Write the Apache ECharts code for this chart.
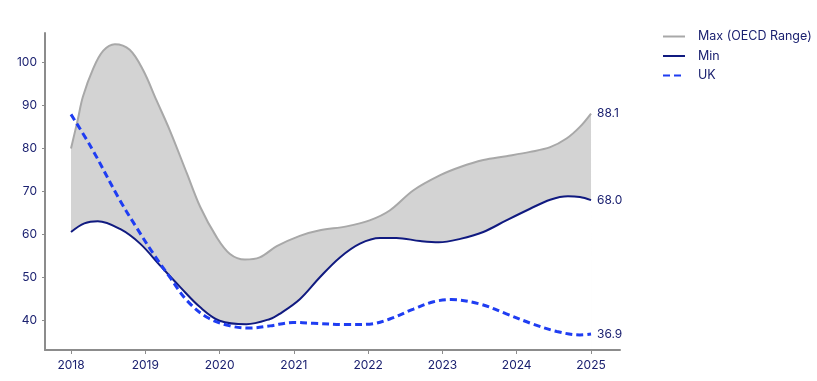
<!DOCTYPE html>
<html><head><meta charset="utf-8">
<script src="https://cdn.jsdelivr.net/npm/echarts@6/dist/echarts.min.js"></script>
<style>html,body{margin:0;padding:0;background:#fff}#c{width:817px;height:381px}</style>
</head><body><div id="c"></div>
<script>
// values (year position, value)
const maxYears = [2018.00,2018.09,2018.16,2018.30,2018.435,2018.59,2018.79,2018.97,2019.15,2019.33,2019.56,2019.74,2019.96,2020.14,2020.34,2020.54,2020.77,2021.08,2021.35,2021.71,2022.02,2022.29,2022.61,2022.97,2023.24,2023.55,2023.86,2024.18,2024.45,2024.67,2024.85,2025.00];
const maxVals  = [80.0,86.6,92.0,98.6,102.7,104.2,102.9,98.2,91.2,84.2,74.2,66.4,59.4,55.5,54.2,54.7,57.3,59.7,61.0,61.9,63.3,65.6,70.3,73.8,75.7,77.3,78.2,79.2,80.3,82.3,85.0,88.1];
const minYears = [2018.00,2018.18,2018.36,2018.66,2018.93,2019.20,2019.47,2019.74,2020.00,2020.36,2020.68,2020.81,2021.08,2021.35,2021.62,2021.89,2022.16,2022.38,2022.70,2022.95,2023.24,2023.55,2023.86,2024.18,2024.45,2024.69,2024.85,2025.00];
const minVals  = [60.6,62.6,63.1,61.3,57.9,52.8,47.8,43.1,40.0,39.2,40.4,41.6,45.0,50.1,54.7,57.9,59.2,59.2,58.5,58.2,59.0,60.6,63.3,66.0,68.1,68.9,68.7,68.0];
const ukYears  = [2018.00,2018.28,2018.66,2018.88,2019.11,2019.33,2019.56,2019.83,2020.14,2020.41,2020.68,2020.99,2021.26,2021.71,2022.02,2022.29,2022.61,2022.88,2023.12,2023.50,2023.86,2024.22,2024.54,2024.85,2025.00];
const ukVals   = [87.9,80.0,67.9,61.7,55.5,50.1,44.7,40.8,38.8,38.3,38.8,39.6,39.4,39.1,39.2,40.4,42.7,44.4,44.9,43.9,41.6,39.2,37.5,36.7,36.9];
const yearTicks = [2018,2019,2020,2021,2022,2023,2024,2025];
const yTicks = [40,50,60,70,80,90,100];

const pair = (xs, vs) => xs.map((x,i)=>[x, vs[i]]);
const navy = '#1b2170';
const font = 'Inter, "Noto Sans", sans-serif';
const endLbl = {show:true, color:navy, fontSize:12, fontFamily:font, distance:6,
  formatter: p => Number(p.value[1]).toFixed(1)};
const SM = 0.35;

const chart = echarts.init(document.getElementById('c'), null, {renderer:'canvas'});
chart.setOption({
  animation:false,
  grid:{left:45, right:197, top:33, bottom:31, containLabel:false},
  legend:{
    orient:'vertical', left:657, top:25, itemWidth:22, itemHeight:12, itemGap:6.5,
    itemStyle:{opacity:0},
    textStyle:{color:navy, fontSize:12.5, fontFamily:font, padding:[0,0,0,8]},
    data:['Max (OECD Range)','Min','UK']
  },
  xAxis:{
    type:'value', min:2017.65, max:2025.39,
    axisLine:{show:true, lineStyle:{color:'#8c8c8c', width:2}},
    axisTick:{show:true, customValues:yearTicks, length:4, lineStyle:{color:'#8c8c8c'}},
    axisLabel:{customValues:yearTicks, color:navy, fontSize:12, fontFamily:font, margin:9,
      formatter: v => String(Math.round(v))},
    splitLine:{show:false}
  },
  yAxis:{
    type:'value', min:33.2, max:106.8,
    axisLine:{show:true, lineStyle:{color:'#8c8c8c', width:2}},
    axisTick:{show:true, customValues:yTicks, length:3, lineStyle:{color:'#8c8c8c'}},
    axisLabel:{customValues:yTicks, color:navy, fontSize:12, fontFamily:font, margin:8},
    splitLine:{show:false}
  },
  series:[
    {name:'bandTop', type:'line', data:pair(maxYears,maxVals), smooth:SM, symbol:'none',
     lineStyle:{opacity:0}, areaStyle:{color:'#d3d3d3', opacity:1, origin:'start'}, silent:true, z:-2},
    {name:'bandBottom', type:'line', data:pair(minYears,minVals), smooth:SM, symbol:'none',
     lineStyle:{opacity:0}, areaStyle:{color:'#ffffff', opacity:1, origin:'start'}, silent:true, z:-1},
    {name:'Max (OECD Range)', type:'line', data:pair(maxYears,maxVals), smooth:SM, symbol:'none',
     lineStyle:{color:'#a8a8a8', width:2}, itemStyle:{color:'#a8a8a8'}, endLabel:endLbl, z:3},
    {name:'Min', type:'line', data:pair(minYears,minVals), smooth:SM, symbol:'none',
     lineStyle:{color:'#101a80', width:2}, itemStyle:{color:'#101a80'}, endLabel:endLbl, z:4},
    {name:'UK', type:'line', data:pair(ukYears,ukVals), smooth:SM, symbol:'none',
     lineStyle:{color:'#1f3df2', width:3, type:[7,4]}, itemStyle:{color:'#1f3df2'}, endLabel:endLbl, z:5}
  ]
});
</script></body></html>
